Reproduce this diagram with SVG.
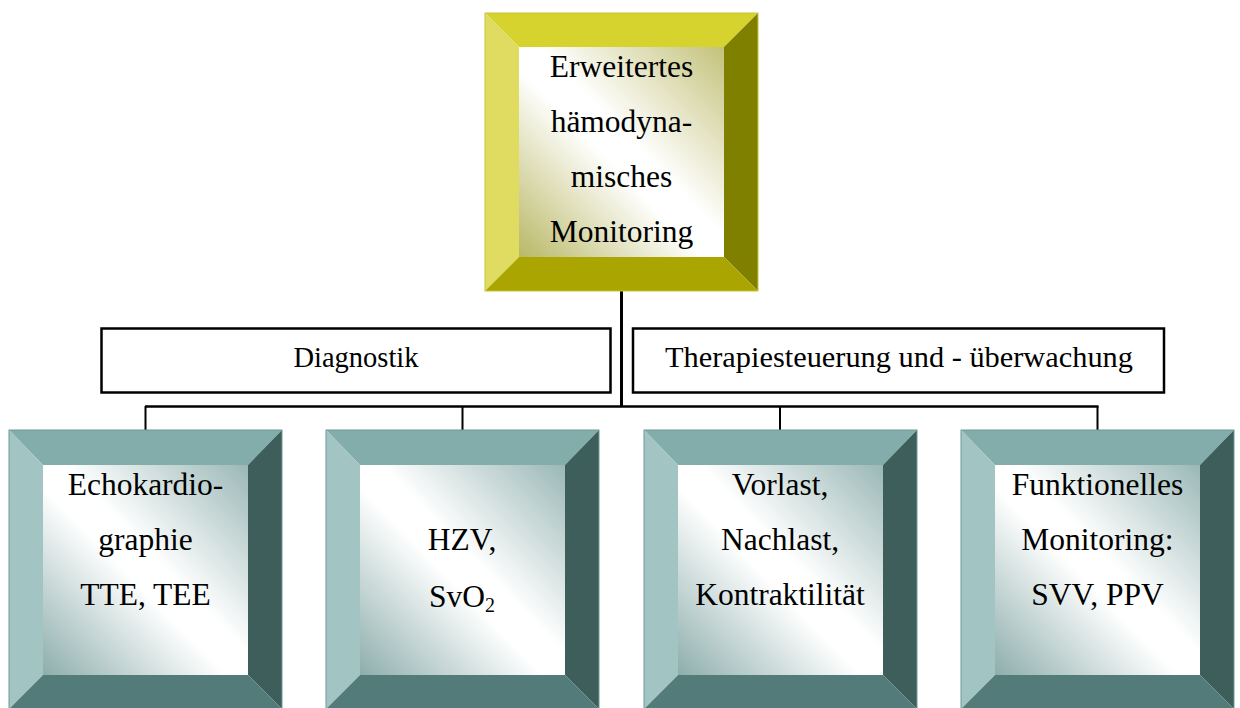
<svg xmlns="http://www.w3.org/2000/svg" width="1240" height="708" viewBox="0 0 1240 708">
<style>
text{font-family:"Liberation Serif","Times New Roman",serif;font-size:31.5px;fill:#000;text-anchor:middle}
.lb{font-size:29.5px}
.ln{stroke:#000;fill:none}
.lbl{fill:#fff;stroke:#000;stroke-width:2.5}
.o-t{fill:#d6d22e}.o-l{fill:#e0dc62}.o-r{fill:#808000}.o-b{fill:#aaa500}
.t-t{fill:#82adaa}.t-l{fill:#a2c4c2}.t-r{fill:#3e5e5c}.t-b{fill:#537b79}
</style>
<defs>
<linearGradient id="gO" x1="0" y1="1" x2="1" y2="0">
<stop offset="0" stop-color="#b9b866"/><stop offset="0.45" stop-color="#ffffff"/><stop offset="0.55" stop-color="#ffffff"/><stop offset="1" stop-color="#c4c27a"/>
</linearGradient>
<linearGradient id="gT" x1="0" y1="1" x2="1" y2="0">
<stop offset="0" stop-color="#8daeac"/><stop offset="0.45" stop-color="#ffffff"/><stop offset="0.55" stop-color="#ffffff"/><stop offset="1" stop-color="#9ab8b6"/>
</linearGradient>
</defs>

<g id="connectors">
<line class="ln" x1="621.5" y1="291" x2="621.5" y2="407" stroke-width="3"/>
<line class="ln" x1="145" y1="406.5" x2="1098.5" y2="406.5" stroke-width="2.5"/>
<line class="ln" x1="145.5" y1="406" x2="145.5" y2="431" stroke-width="2"/>
<line class="ln" x1="462.5" y1="406" x2="462.5" y2="431" stroke-width="2"/>
<line class="ln" x1="780" y1="406" x2="780" y2="431" stroke-width="2"/>
<line class="ln" x1="1097.5" y1="406" x2="1097.5" y2="431" stroke-width="2"/>
</g>

<g id="top">
<polygon class="o-t" points="485,13 758,13 724,47 519,47"/>
<polygon class="o-l" points="485,13 519,47 519,257 485,291"/>
<polygon class="o-r" points="758,13 758,291 724,257 724,47"/>
<polygon class="o-b" points="485,291 519,257 724,257 758,291"/>
<rect x="519" y="47" width="205" height="210" fill="url(#gO)"/>
<rect x="485" y="13" width="273" height="278" fill="none" stroke="#c8c43a" stroke-width="1"/>
<text x="621.5" y="77">Erweitertes</text>
<text x="621.5" y="132">hämodyna-</text>
<text x="621.5" y="187">misches</text>
<text x="621.5" y="242">Monitoring</text>
</g>

<g id="diagnostik">
<rect class="lbl" x="101.5" y="328.5" width="509" height="64"/>
<text class="lb" x="356" y="367" textLength="125" lengthAdjust="spacingAndGlyphs">Diagnostik</text>
</g>

<g id="therapie">
<rect class="lbl" x="633" y="328.5" width="531" height="64"/>
<text class="lb" x="899" y="367" textLength="468" lengthAdjust="spacingAndGlyphs">Therapiesteuerung und - überwachung</text>
</g>

<g id="echo">
<polygon class="t-t" points="9,430 282,430 248,465 43,465"/>
<polygon class="t-l" points="9,430 43,465 43,675 9,709"/>
<polygon class="t-r" points="282,430 282,709 248,675 248,465"/>
<polygon class="t-b" points="9,709 43,675 248,675 282,709"/>
<rect x="43" y="465" width="205" height="210" fill="url(#gT)"/>
<rect x="9" y="430" width="273" height="279" fill="none" stroke="#6f9a98" stroke-width="1"/>
<text x="145.5" y="495">Echokardio-</text>
<text x="145.5" y="550">graphie</text>
<text x="145.5" y="605">TTE, TEE</text>
</g>

<g id="hzv">
<polygon class="t-t" points="326,430 599,430 565,465 360,465"/>
<polygon class="t-l" points="326,430 360,465 360,675 326,709"/>
<polygon class="t-r" points="599,430 599,709 565,675 565,465"/>
<polygon class="t-b" points="326,709 360,675 565,675 599,709"/>
<rect x="360" y="465" width="205" height="210" fill="url(#gT)"/>
<rect x="326" y="430" width="273" height="279" fill="none" stroke="#6f9a98" stroke-width="1"/>
<text x="462" y="550">HZV,</text>
<text x="462" y="607">SvO<tspan font-size="20" dy="5">2</tspan></text>
</g>

<g id="last">
<polygon class="t-t" points="644,430 917,430 883,465 678,465"/>
<polygon class="t-l" points="644,430 678,465 678,675 644,709"/>
<polygon class="t-r" points="917,430 917,709 883,675 883,465"/>
<polygon class="t-b" points="644,709 678,675 883,675 917,709"/>
<rect x="678" y="465" width="205" height="210" fill="url(#gT)"/>
<rect x="644" y="430" width="273" height="279" fill="none" stroke="#6f9a98" stroke-width="1"/>
<text x="780" y="495">Vorlast,</text>
<text x="780" y="550">Nachlast,</text>
<text x="780" y="605">Kontraktilität</text>
</g>

<g id="funktionell">
<polygon class="t-t" points="961,430 1234,430 1200,465 995,465"/>
<polygon class="t-l" points="961,430 995,465 995,675 961,709"/>
<polygon class="t-r" points="1234,430 1234,709 1200,675 1200,465"/>
<polygon class="t-b" points="961,709 995,675 1200,675 1234,709"/>
<rect x="995" y="465" width="205" height="210" fill="url(#gT)"/>
<rect x="961" y="430" width="273" height="279" fill="none" stroke="#6f9a98" stroke-width="1"/>
<text x="1097.5" y="495">Funktionelles</text>
<text x="1097.5" y="550">Monitoring:</text>
<text x="1097.5" y="605">SVV, PPV</text>
</g>
</svg>
